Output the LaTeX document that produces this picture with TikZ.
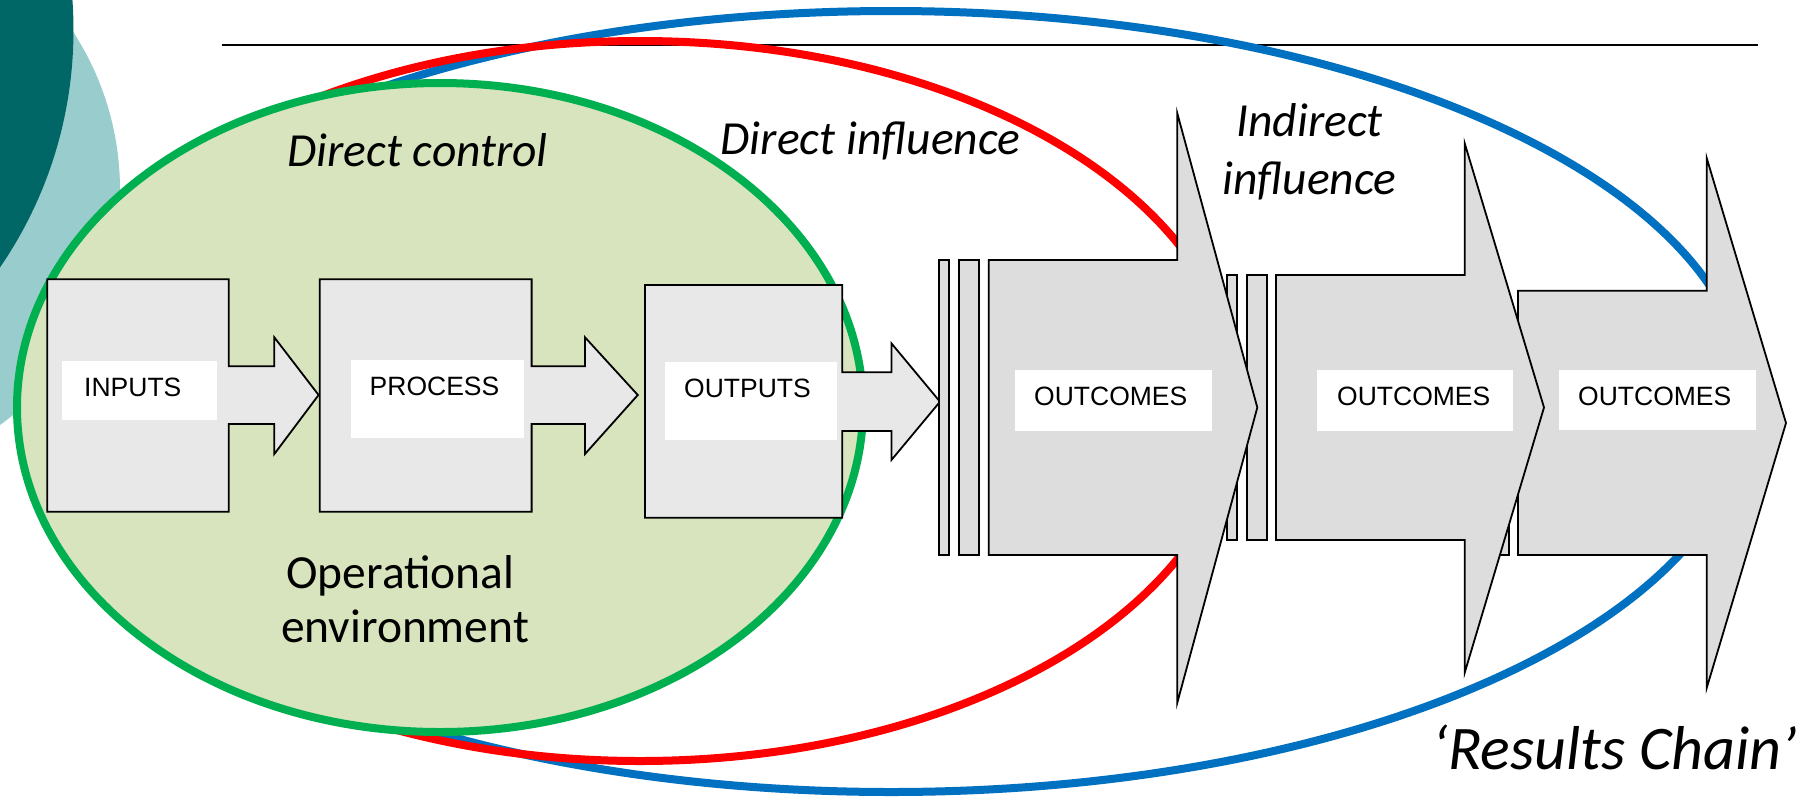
\documentclass[tikz,border=0pt]{standalone}
\usepackage{fontspec}
\setmainfont{Liberation Sans}
\newfontfamily\calfont{Carlito}
\definecolor{boxgray}{RGB}{232,232,232}
\definecolor{outgray}{RGB}{221,221,221}
\definecolor{greenfill}{RGB}{215,228,189}
\definecolor{greenline}{RGB}{0,176,80}
\definecolor{myred}{RGB}{255,0,0}
\definecolor{myblue}{RGB}{0,112,192}
\definecolor{darkteal}{RGB}{0,102,102}
\definecolor{lightteal}{RGB}{153,204,204}
\begin{document}
\begin{tikzpicture}[x=1pt,y=-1pt,
  blockarrow/.style={draw=black, line width=1.8pt, fill=boxgray, line join=miter},
  stripearrow/.style={draw=black, line width=1.8pt, fill=outgray, line join=miter},
  labbox/.style={fill=white, draw=none, inner sep=0pt},
  boxtext/.style={inner sep=0pt, font=\fontsize{26.5pt}{30pt}\selectfont},
  italtext/.style={inner sep=0pt, font=\calfont\itshape\fontsize{47.5pt}{56pt}\selectfont},
  plaintext/.style={inner sep=0pt, font=\calfont\fontsize{47.5pt}{56pt}\selectfont},
  ring/.style={line width=8pt}]
\useasboundingbox (0,0) rectangle (1814,796);
\clip (0,0) rectangle (1814,796);
\fill[white] (0,0) rectangle (1814,796);

% decorative circles
\fill[lightteal] (-170,190) circle [radius=290pt];
\fill[darkteal] (-346.5,30) circle [radius=420pt];

% top rule
\coordinate (ruleL) at (221.7,45);
\coordinate (ruleR) at (1757.5,45);
\draw[line width=2pt] (ruleL) -- (ruleR);

% ellipses
\draw[ring, draw=myblue] (891,401.5) ellipse [x radius=857pt, y radius=390.5pt];
\draw[ring, draw=myred] (640,401) ellipse [x radius=598pt, y radius=360pt];
\draw[ring, draw=greenline, fill=greenfill] (440,407.5) ellipse [x radius=423pt, y radius=324.5pt];

% italic region labels
\node[italtext, anchor=base] (dctrl) at (417.5,166.7) {Direct control};
\node[italtext, anchor=base] (dinfl) at (870.5,154) {Direct influence};
\node[italtext, anchor=base] (indir1) at (1309.5,136) {Indirect};
\node[italtext, anchor=base] (indir2) at (1309.5,194) {influence};
\node[plaintext, anchor=base] (oper1) at (400.5,588) {Operational};
\node[plaintext, anchor=base] (oper2) at (405,642.7) {environment};
\node[inner sep=0pt, font=\calfont\itshape\fontsize{62pt}{70pt}\selectfont, anchor=base] (rchain) at (1615,769) {‘Results Chain’};

% INPUTS
\draw[blockarrow] (47.3,279.3) -- (228.8,279.3) -- (228.8,366.3) -- (274.3,366.3) -- (274.3,337.3) -- (318.6,395) -- (274.3,454) -- (274.3,424) -- (228.8,424) -- (228.8,511.7) -- (47.3,511.7) -- cycle;
\node[labbox, minimum width=154.7pt, minimum height=59pt] (inbox) at (139.25,390.5) {};
\node[boxtext, anchor=base west] (intext) at (84,396) {INPUTS};

% PROCESS
\draw[blockarrow] (319.8,279.3) -- (531.6,279.3) -- (531.6,366.3) -- (585,366.3) -- (585,337.3) -- (637.8,395) -- (585,454) -- (585,424) -- (531.6,424) -- (531.6,511.7) -- (319.8,511.7) -- cycle;
\node[labbox, minimum width=173pt, minimum height=77.7pt] (prbox) at (437.2,398.85) {};
\node[boxtext, anchor=base west] (prtext) at (369.5,395) {PROCESS};

% OUTPUTS
\draw[blockarrow] (645,285) -- (842.2,285) -- (842.2,372.3) -- (891.4,372.3) -- (891.4,343.3) -- (940,401.7) -- (891.4,460) -- (891.4,431) -- (842.2,431) -- (842.2,517.7) -- (645,517.7) -- cycle;
\node[labbox, minimum width=172.4pt, minimum height=77.7pt] (oubox) at (751.2,401.15) {};
\node[boxtext, anchor=base west] (outext) at (684,397.7) {OUTPUTS};

% OUTCOMES 3 (bottom of stack)
\draw[stripearrow] (1469,290.7) rectangle (1479,555);
\draw[stripearrow] (1489,290.7) rectangle (1509,555);
\draw[stripearrow] (1518,290.7) -- (1706.7,290.7) -- (1706.7,158) -- (1786,423) -- (1706.7,688) -- (1706.7,555) -- (1518,555) -- cycle;
\node[labbox, minimum width=197pt, minimum height=60pt] (oc3box) at (1657.5,400) {};
\node[boxtext, anchor=base west] (oc3text) at (1578,405.7) {OUTCOMES};

% OUTCOMES 2
\draw[stripearrow] (1226.7,275) rectangle (1236.7,540);
\draw[stripearrow] (1246.7,275) rectangle (1266.7,540);
\draw[stripearrow] (1276,275) -- (1464.7,275) -- (1464.7,143.3) -- (1544,407.5) -- (1464.7,672.7) -- (1464.7,540) -- (1276,540) -- cycle;
\node[labbox, minimum width=196.3pt, minimum height=60.7pt] (oc2box) at (1415.15,400.35) {};
\node[boxtext, anchor=base west] (oc2text) at (1337,405.7) {OUTCOMES};

% OUTCOMES 1 (top of stack)
\draw[stripearrow] (939,260) rectangle (949,555);
\draw[stripearrow] (958.7,260) rectangle (979,555);
\draw[stripearrow] (988.7,260) -- (1177.3,260) -- (1177.3,113.3) -- (1257.3,407.5) -- (1177.3,702.7) -- (1177.3,555) -- (988.7,555) -- cycle;
\node[labbox, minimum width=196.7pt, minimum height=60.7pt] (oc1box) at (1113.35,400.35) {};
\node[boxtext, anchor=base west] (oc1text) at (1034,405.7) {OUTCOMES};
\end{tikzpicture}
\end{document}
